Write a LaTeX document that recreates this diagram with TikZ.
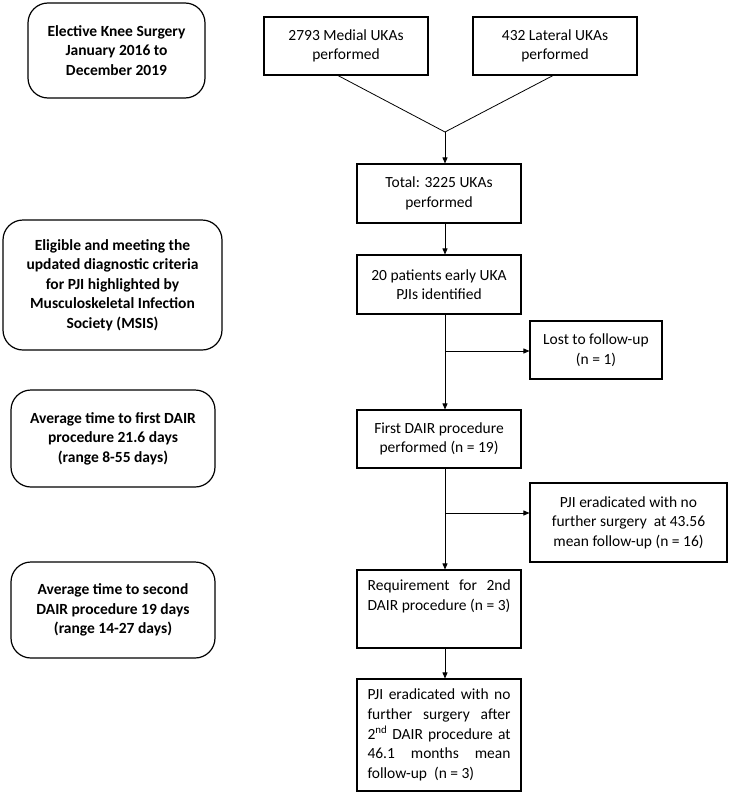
\documentclass[tikz,border=0pt]{standalone}
\usepackage{fontspec}
\setmainfont{Carlito}
\usetikzlibrary{arrows.meta,calc}
\begin{document}
\begin{tikzpicture}[x=1pt,y=-1pt,
  every node/.style={font=\fontsize{15.5}{19.6}\selectfont, inner sep=0pt},
  rbox/.style={draw, line width=1.2pt, rounded corners=20pt, align=center,
    font=\fontsize{15.5}{19.6}\selectfont\bfseries},
  sbox/.style={draw, line width=1.1pt, align=center, minimum width=164pt},
  conn/.style={line width=0.8pt},
  arr/.style={conn, -{Triangle[length=6pt,width=5pt]}}]
\useasboundingbox (0,0) rectangle (730,795);

% left rounded boxes
\node[rbox, minimum width=177pt, minimum height=95pt] (b1) at (116.5,50.5)
  {Elective Knee Surgery\\January 2016 to\\December 2019};
\node[rbox, minimum width=219pt, minimum height=130pt] (b2) at (112.5,285)
  {Eligible and meeting the\\updated diagnostic criteria\\for PJI highlighted by\\Musculoskeletal Infection\\Society (MSIS)};
\node[rbox, minimum width=204pt, minimum height=97pt] (b3) at (113,438.5)
  {Average time to first DAIR\\procedure 21.6 days\\(range 8-55 days)};
\node[rbox, minimum width=204pt, minimum height=96pt] (b4) at (113,610)
  {Average time to second\\DAIR procedure 19 days\\(range 14-27 days)};

% flow boxes
\node[sbox, minimum height=58pt] (med) at (346,46) {2793 Medial UKAs\\performed};
\node[sbox, minimum height=58pt] (lat) at (555,46) {432 Lateral UKAs\\performed};
\node[sbox, minimum height=59pt] (tot) at (439,193.5) {Total: 3225 UKAs\\performed};
\node[sbox, minimum height=59pt] (pat) at (439,284.5) {20 patients early UKA\\PJIs identified};
\node[sbox, minimum width=132pt, minimum height=58pt] (lost) at (596,350) {Lost to follow-up\\(n = 1)};
\node[sbox, minimum height=58pt] (first) at (439,439) {First DAIR procedure\\performed (n = 19)};
\node[sbox, minimum width=197pt, minimum height=79pt] (pji) at (628.5,522.5)
  {PJI eradicated with no\\further surgery\ \ at 43.56\\mean follow-up (n = 16)};
\node[sbox, minimum height=78pt] (req) at (439,609) {};
\node[anchor=north west, align=left] (reqt) at ($(req.north west)+(11,10)$)
  {\makebox[143pt][s]{Requirement for 2nd}\\DAIR procedure (n = 3)};
\node[sbox, minimum height=112pt, align=left] (last) at (439,735)
  {\makebox[143pt][s]{PJI eradicated with no}\\
   \makebox[143pt][s]{further surgery after}\\
   \makebox[143pt][s]{2\textsuperscript{nd} DAIR procedure at}\\
   \makebox[143pt][s]{46.1 months mean}\\
   \makebox[143pt][l]{follow-up\ \ (n = 3)}};

% connectors
\coordinate (mb) at (337,75);
\coordinate (lb) at (554,75);
\coordinate (j) at (445,132);
\coordinate (br1) at (445,351);
\coordinate (br2) at (445,513);
\draw[conn] (mb) -- (j) -- (lb);
\draw[arr] (j) -- (j |- tot.north);
\draw[arr] (tot.south -| j) -- (pat.north -| j);
\draw[arr] (pat.south -| j) -- (first.north -| j);
\draw[arr] (br1) -- (lost.west |- br1);
\draw[arr] (first.south -| j) -- (req.north -| j);
\draw[arr] (br2) -- (pji.west |- br2);
\draw[arr] (req.south -| j) -- (last.north -| j);
\end{tikzpicture}
\end{document}
